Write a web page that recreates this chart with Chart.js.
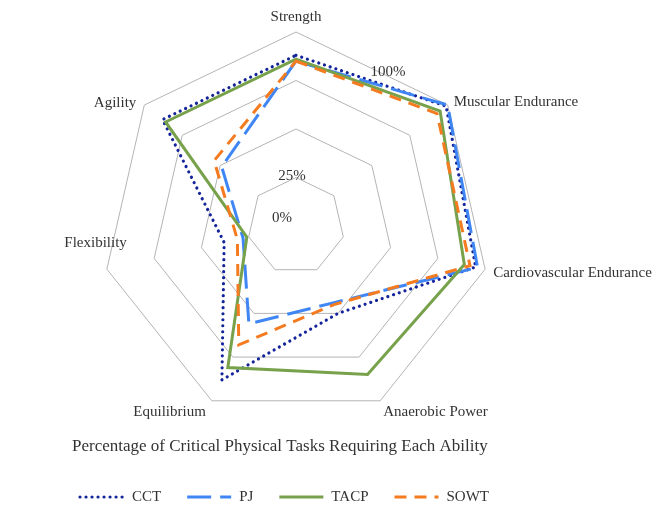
<!DOCTYPE html>
<html>
<head>
<meta charset="utf-8">
<script src="https://cdn.jsdelivr.net/npm/chart.js@4"></script>
<style>
  html, body { margin: 0; padding: 0; background: #ffffff; }
  #wrap { width: 666px; height: 530px; }
</style>
</head>
<body>
<div id="wrap"><canvas id="c" width="666" height="530"></canvas></div>
<script>
const abilities = ['Strength', 'Muscular Endurance', 'Cardiovascular Endurance', 'Anaerobic Power', 'Equilibrium', 'Flexibility', 'Agility'];
const cct  = [88, 99, 95, 50, 88, 38, 88];
const pj   = [85, 100, 96, 44, 56, 28, 49];
const tacp = [86, 95, 89, 85, 81, 26, 86];
const sowt = [85, 93, 92, 45, 68, 31, 54];
const tickLabels = ['0%', '25%', '100%'];
const chartTitle = 'Percentage of Critical Physical Tasks Requiring Each Ability';

const TEXT = '#333333';
const FONT = '15px "Liberation Serif", serif';
const TITLE_FONT = '17px "Liberation Serif", serif';

// label placement relative to each outer vertex: [dx, dy, align]
const labelOffsets = [[0, -15, 'center'], [6, -3, 'left'], [8, 4, 'left'], [3, 11, 'left'], [-6, 11, 'right'], [20, -26, 'right'], [-8, -2, 'right']];
// tick label placement relative to center, as fraction of radius
const tickOffsets = [[-0.072, -0.041], [-0.021, -0.258], [0.474, -0.794]];

const overlay = {
  id: 'overlay',
  afterDraw(chart) {
    const ctx = chart.ctx;
    const s = chart.scales.r;
    ctx.save();
    ctx.font = FONT;
    ctx.fillStyle = TEXT;
    ctx.textBaseline = 'middle';
    // point labels
    abilities.forEach((lab, i) => {
      const p = s.getPointPosition(i, s.drawingArea);
      const o = labelOffsets[i];
      ctx.textAlign = o[2];
      ctx.fillText(lab, p.x + o[0], p.y + o[1]);
    });
    // tick labels
    ctx.textAlign = 'center';
    tickLabels.forEach((t, i) => {
      const o = tickOffsets[i];
      ctx.fillText(t, s.xCenter + o[0] * s.drawingArea, s.yCenter + o[1] * s.drawingArea);
    });
    // title
    ctx.font = TITLE_FONT;
    ctx.textAlign = 'left';
    ctx.fillText(chartTitle, 72, 447);
    // legend
    ctx.font = FONT;
    let x = 80;
    const y = 497;
    chart.data.datasets.forEach(ds => {
      const L = 44;
      ctx.save();
      ctx.strokeStyle = ds.borderColor;
      ctx.lineWidth = ds.borderWidth;
      ctx.lineCap = ds.borderCapStyle || 'butt';
      ctx.setLineDash(ds.borderDash || []);
      ctx.beginPath();
      ctx.moveTo(x, y);
      ctx.lineTo(x + L, y);
      ctx.stroke();
      ctx.restore();
      ctx.textAlign = 'left';
      ctx.fillText(ds.label, x + L + 8, y);
      x = x + L + 8 + ctx.measureText(ds.label).width + 26;
    });
    ctx.restore();
  }
};

new Chart(document.getElementById('c'), {
  type: 'radar',
  data: {
    labels: abilities,
    datasets: [
      { label: 'CCT', data: cct, borderColor: '#13239a', borderWidth: 3.2, borderDash: [0.01, 6], borderCapStyle: 'round', order: 4 },
      { label: 'PJ', data: pj, borderColor: '#3f86f4', borderWidth: 3, borderDash: [24, 9], order: 3 },
      { label: 'TACP', data: tacp, borderColor: '#77a14a', borderWidth: 3, order: 2 },
      { label: 'SOWT', data: sowt, borderColor: '#f47b20', borderWidth: 3, borderDash: [12, 8], order: 1 }
    ].map(d => Object.assign({ fill: false, pointRadius: 0, pointHoverRadius: 0, tension: 0, backgroundColor: 'transparent' }, d))
  },
  options: {
    responsive: false,
    animation: false,
    devicePixelRatio: 1,
    layout: { padding: { left: 102, right: 176, top: 32, bottom: 110 } },
    plugins: { legend: { display: false }, title: { display: false }, tooltip: { enabled: false } },
    scales: {
      r: {
        min: 0, max: 100,
        ticks: { stepSize: 25, display: false },
        grid: { circular: false, color: '#b4b4b4', lineWidth: 1 },
        angleLines: { display: false },
        pointLabels: { display: false }
      }
    }
  },
  plugins: [overlay]
});
</script>
</body>
</html>
